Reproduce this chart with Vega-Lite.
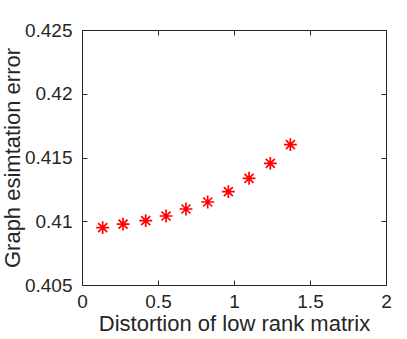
{
  "$schema": "https://vega.github.io/schema/vega-lite/v6.json",
  "width": 304,
  "height": 255,
  "autosize": {"type": "none"},
  "padding": {"left": 82, "top": 30, "right": 21, "bottom": 54},
  "background": "white",
  "config": {
    "view": {"stroke": null},
    "font": "Liberation Sans",
    "axis": {
      "grid": false,
      "domainColor": "#262626",
      "domainWidth": 1,
      "tickColor": "#262626",
      "tickSize": -5,
      "tickWidth": 1,
      "labelColor": "#262626",
      "labelFont": "Liberation Sans",
      "labelFontSize": 19,
      "titleFont": "Liberation Sans",
      "titleFontSize": 22,
      "titleFontWeight": "normal",
      "titleColor": "#262626",
      "labelOverlap": false,
      "labelFlush": false
    }
  },
  "data": {
    "values": [
      {"distortion": 0.136, "error": 0.4095},
      {"distortion": 0.270, "error": 0.40978},
      {"distortion": 0.419, "error": 0.41005},
      {"distortion": 0.553, "error": 0.41041},
      {"distortion": 0.684, "error": 0.41096},
      {"distortion": 0.827, "error": 0.41151},
      {"distortion": 0.963, "error": 0.41232},
      {"distortion": 1.099, "error": 0.41337},
      {"distortion": 1.239, "error": 0.41454},
      {"distortion": 1.371, "error": 0.41601}
    ]
  },
  "layer": [
    {
      "mark": {
        "type": "point",
        "shape": "M-1,0L1,0M0,-1L0,1M-0.7,-0.7L0.7,0.7M-0.7,0.7L0.7,-0.7",
        "filled": false,
        "stroke": "#ff0000",
        "strokeWidth": 1.7,
        "size": 165,
        "opacity": 1
      },
      "encoding": {
        "x": {
          "field": "distortion",
          "type": "quantitative",
          "scale": {"domain": [0, 2], "nice": false, "zero": false},
          "axis": {
            "orient": "bottom",
            "values": [0, 0.5, 1, 1.5, 2],
            "format": "~g",
            "labelPadding": 12,
            "title": "Distortion of low rank matrix",
            "titlePadding": 2
          }
        },
        "y": {
          "field": "error",
          "type": "quantitative",
          "scale": {"domain": [0.405, 0.425], "nice": false, "zero": false},
          "axis": {
            "orient": "left",
            "values": [0.405, 0.41, 0.415, 0.42, 0.425],
            "format": "~g",
            "labelPadding": 15,
            "title": "Graph esimtation error",
            "titlePadding": 0
          }
        }
      }
    },
    {
      "mark": {"type": "point", "opacity": 0},
      "encoding": {
        "x": {
          "field": "distortion",
          "type": "quantitative",
          "axis": {
            "orient": "top",
            "values": [0, 0.5, 1, 1.5, 2],
            "labels": false,
            "title": null
          }
        },
        "y": {
          "field": "error",
          "type": "quantitative",
          "axis": {
            "orient": "right",
            "values": [0.405, 0.41, 0.415, 0.42, 0.425],
            "labels": false,
            "title": null
          }
        }
      }
    }
  ],
  "resolve": {"axis": {"x": "independent", "y": "independent"}}
}
